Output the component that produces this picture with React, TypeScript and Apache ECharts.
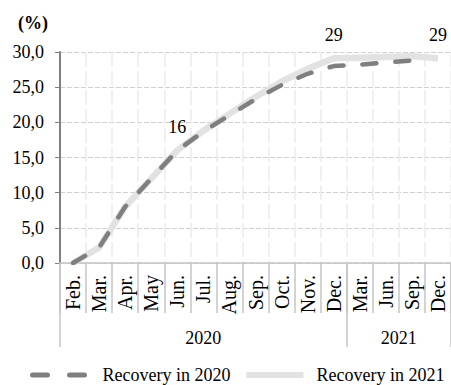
import React, { useEffect, useRef } from "react";
import * as echarts from "echarts";

const months = ["Feb.", "Mar.", "Apr.", "May", "Jun.", "Jul.", "Aug.", "Sep.", "Oct.", "Nov.", "Dec.", "Mar.", "Jun.", "Sep.", "Dec."];
const years = ["2020", "2021"];
const yearSpans = [11, 4]; // number of month categories in each year group
const recovery2020 = [0, 2.2, 8.0, 12.0, 16.0, 18.7, 21.0, 23.3, 25.3, 26.9, 28.0, 28.2, 28.5, 28.8, null];
const recovery2021 = [0, 2.2, 8.0, 12.0, 16.0, 18.8, 21.2, 23.6, 25.8, 27.6, 29.1, 29.2, 29.3, 29.4, 29.1];
const labelIndices = [4, 10, 14];
const seriesNames = ["Recovery in 2020", "Recovery in 2021"];
const yTicks = [0, 5, 10, 15, 20, 25, 30];

const SERIF = "Liberation Serif";
const DARK = "#7f7f7f";
const LIGHT = "#e2e2e2";

export default function App() {
  const ref = useRef<HTMLDivElement>(null);
  useEffect(() => {
    if (!ref.current) return;
    const chart = echarts.init(ref.current, undefined, { renderer: "svg" });

    const bounds: number[] = [0];
    yearSpans.forEach((s) => bounds.push(bounds[bounds.length - 1] + s));
    const centers = yearSpans.map((s, i) => bounds[i] + s / 2);

    const lightData = recovery2021.map((v, i) =>
      labelIndices.includes(i) ? { value: v, label: { show: true } } : v
    );

    chart.setOption({
      animation: false,
      textStyle: { fontFamily: SERIF },
      title: {
        text: "(%)",
        left: 13,
        top: 9,
        textStyle: { fontFamily: SERIF, fontSize: 18, fontWeight: "bold", color: "#000" },
      },
      grid: { left: 60, right: -7, top: 52, bottom: 122, containLabel: false },
      legend: {
        orient: "horizontal",
        left: 25,
        top: 361,
        width: 520,
        itemWidth: 57,
        itemHeight: 14,
        itemGap: 13,
        data: [
          { name: seriesNames[0], lineStyle: { width: 5, color: DARK, type: [15, 22], cap: "round" } },
          { name: seriesNames[1], lineStyle: { width: 6, color: LIGHT, type: "solid" } },
        ],
        itemStyle: { opacity: 0 },
        textStyle: { fontFamily: SERIF, fontSize: 18, color: "#000", padding: [0, 0, 0, 8] },
      },
      xAxis: [
        {
          type: "category",
          data: months,
          boundaryGap: true,
          axisLine: { show: true, lineStyle: { color: "#c4c4c4", width: 1.5 } },
          axisTick: { show: true, interval: 0, length: 50, lineStyle: { color: "#c4c4c4", width: 1.5 } },
          axisLabel: {
            interval: 0,
            rotate: 90,
            margin: 12,
            fontFamily: SERIF,
            fontSize: 20,
            color: "#000",
          },
          splitLine: { show: true, interval: 0, lineStyle: { color: "#ececec", width: 1.5, type: [15, 4] } },
        },
        {
          type: "value",
          position: "bottom",
          min: 0,
          max: months.length,
          axisLine: { show: false },
          splitLine: { show: false },
          axisTick: {
            show: true,
            customValues: bounds,
            length: 84,
            lineStyle: { color: "#c4c4c4", width: 1.5 },
          },
          axisLabel: {
            customValues: centers,
            margin: 66,
            fontFamily: SERIF,
            fontSize: 18,
            color: "#000",
            formatter: (v: number) => {
              const idx = centers.findIndex((c) => Math.abs(c - v) < 1e-6);
              return idx >= 0 ? years[idx] : "";
            },
          },
        },
      ],
      yAxis: {
        type: "value",
        min: yTicks[0],
        max: yTicks[yTicks.length - 1],
        interval: 5,
        axisLine: { show: true, lineStyle: { color: "#808080", width: 2 } },
        axisTick: { show: true, length: 5, lineStyle: { color: "#808080" } },
        axisLabel: {
          margin: 16,
          fontFamily: SERIF,
          fontSize: 18,
          color: "#000",
          formatter: (v: number) => v.toFixed(1).replace(".", ","),
        },
        splitLine: { show: true, lineStyle: { color: "#d0d0d0", width: 1, type: [5, 2] } },
      },
      series: [
        {
          name: seriesNames[1],
          type: "line",
          xAxisIndex: 0,
          data: lightData,
          symbol: "circle",
          symbolSize: 0,
          showSymbol: true,
          lineStyle: { color: LIGHT, width: 6.5 },
          itemStyle: { color: LIGHT },
          label: {
            show: false,
            position: "top",
            distance: 14,
            fontFamily: SERIF,
            fontSize: 18,
            color: "#000",
            formatter: (p: any) => String(Math.round(p.value)),
          },
          z: 2,
        },
        {
          name: seriesNames[0],
          type: "line",
          xAxisIndex: 0,
          data: recovery2020,
          symbol: "none",
          lineStyle: { color: DARK, width: 4.5, type: [14, 19], cap: "round" },
          itemStyle: { color: DARK },
          z: 3,
        },
      ],
    });
    return () => chart.dispose();
  }, []);
  return <div ref={ref} style={{ position: "absolute", left: 0, top: 0, width: 451, height: 385 }} />;
}
